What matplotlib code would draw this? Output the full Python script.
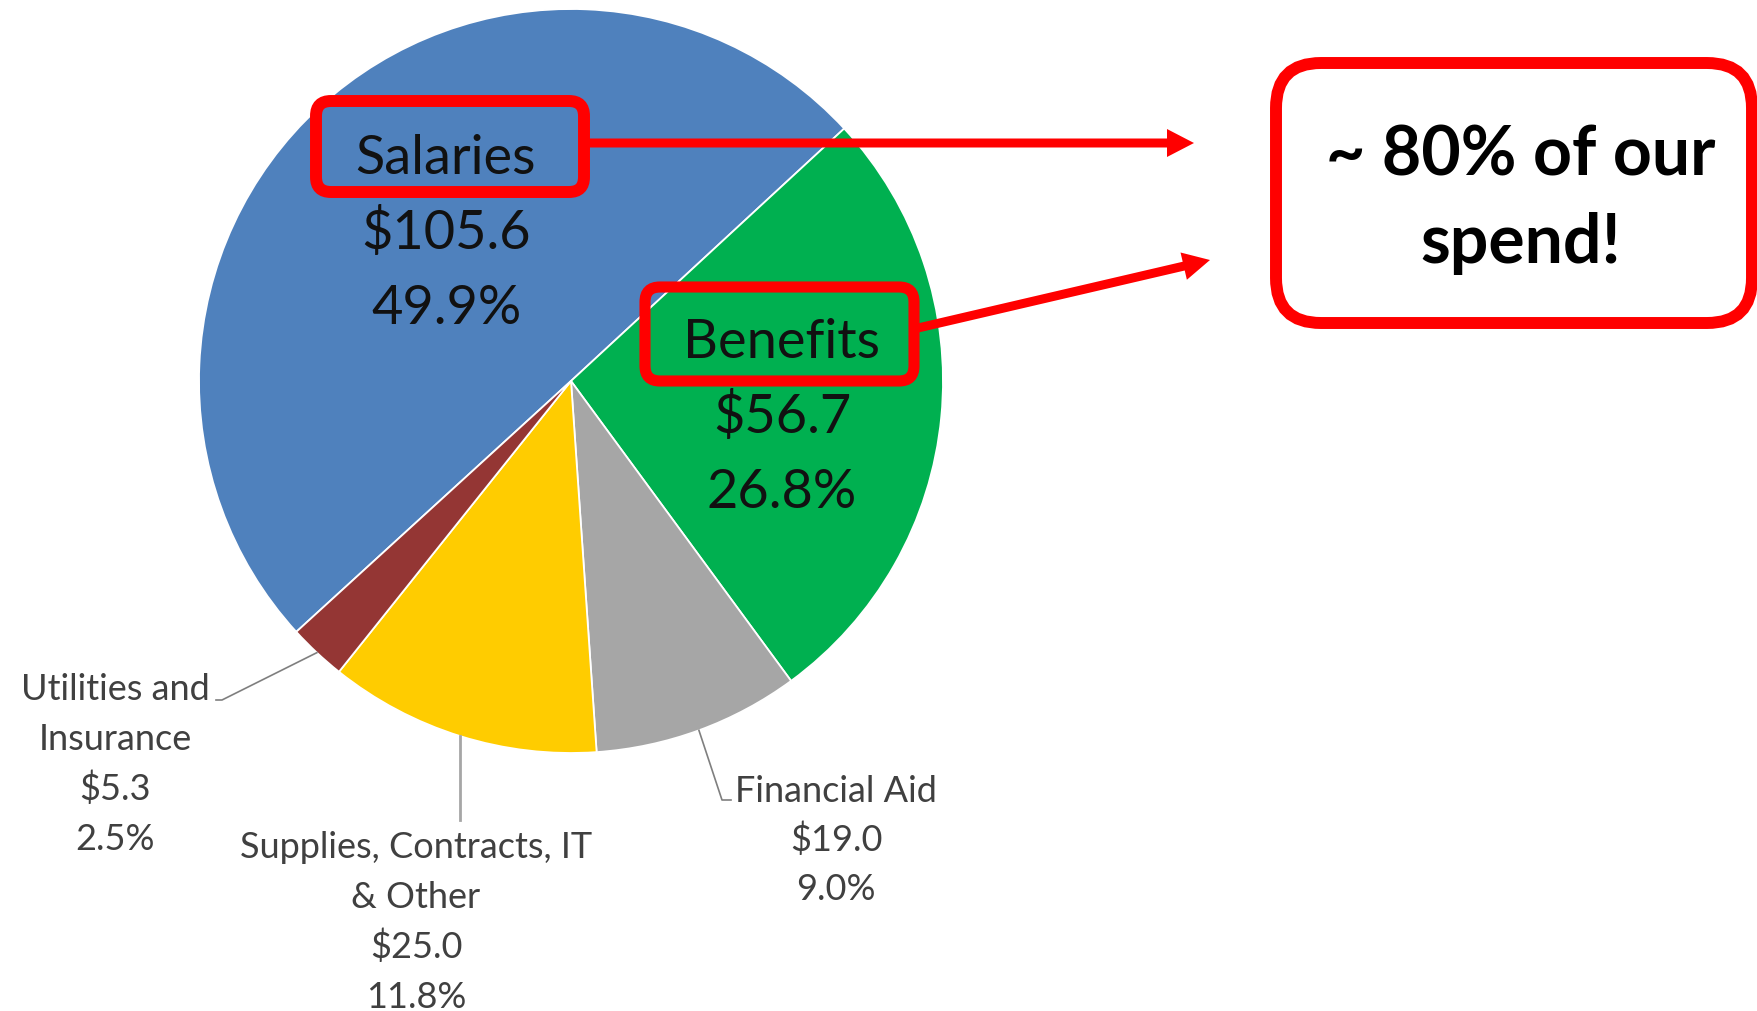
import matplotlib
matplotlib.use("Agg")
import matplotlib.pyplot as plt
from matplotlib.patches import FancyBboxPatch
import numpy as np

# canvas in pixels (y grows downwards, like the source image)
W, H = 1757, 1011

categories = ["Salaries", "Benefits", "Financial Aid",
              "Supplies, Contracts, IT\n& Other", "Utilities and\nInsurance"]
amounts = [105.6, 56.7, 19.0, 25.0, 5.3]   # $M
colors = ["#4F81BD", "#00B050", "#A6A6A6", "#FFCC00", "#943634"]
callout_text = ["~ 80% of our", "spend!"]

FONT = "Lato"
DARK = "#111111"
GREY_TXT = "#404040"
RED = "#FF0000"

fig = plt.figure(figsize=(W / 100, H / 100), dpi=100)
ax = fig.add_axes([0, 0, 1, 1])

# y axis inverted -> counterclockwise in data reads clockwise on screen
wedges, _ = ax.pie(amounts, colors=colors, startangle=137.6, counterclock=True,
                   center=(571, 381), radius=372,
                   wedgeprops=dict(edgecolor="white", linewidth=1.3))
ax.set_xlim(0, W)
ax.set_ylim(H, 0)
ax.set_aspect("equal")
ax.axis("off")

total = sum(amounts)
pcts = [a / total * 100 for a in amounts]


def lines_at(x, y0, step, lines, size, color, weight="normal"):
    for i, s in enumerate(lines):
        ax.text(x, y0 + i * step, s, ha="center", va="baseline", fontsize=size,
                color=color, family=FONT, fontweight=weight, zorder=6)


def rim_point(w, r=372):
    ang = np.deg2rad((w.theta1 + w.theta2) / 2)
    return 571 + r * np.cos(ang), 381 + r * np.sin(ang)


def label_lines(i):
    return categories[i].split("\n") + [f"${amounts[i]:.1f}", f"{pcts[i]:.1f}%"]


# inside labels
lines_at(446, 174, 75, label_lines(0), 39, DARK)
lines_at(782, 358, 75, label_lines(1), 39, DARK)

# outside labels
lines_at(836, 802, 49, label_lines(2), 26, GREY_TXT)
lines_at(416, 858, 50, label_lines(3), 26, GREY_TXT)
lines_at(115, 700, 50, label_lines(4), 26, GREY_TXT)

# leader lines
px, py = rim_point(wedges[2])
ax.plot([px, 722, 731], [py, 800, 800], color="#7F7F7F", lw=1.2, zorder=4)
px, py = rim_point(wedges[3])
ax.plot([px, px], [py, 820], color="#A6A6A6", lw=2, zorder=4)
px, py = rim_point(wedges[4])
ax.plot([px, 222, 216], [py, 700, 700], color="#7F7F7F", lw=1.2, zorder=4)

# red highlight boxes
for (x0, y0, x1, y1), rad, lw in [((316, 101, 584, 192), 15, 8.6),
                                  ((645, 287, 914, 381), 15, 8.0),
                                  ((1276, 63, 1752, 323), 45, 8.6)]:
    ax.add_patch(FancyBboxPatch((x0, y0), x1 - x0, y1 - y0,
                                boxstyle=f"round,pad=0,rounding_size={rad}",
                                fill=False, edgecolor=RED, lw=lw, zorder=5))

# arrows to the callout
ax.arrow(589, 143, 1194 - 589, 0, width=9, head_width=28, head_length=27,
         length_includes_head=True, color=RED, lw=0, zorder=5)
ax.arrow(918, 328, 1210 - 918, 260 - 328, width=9, head_width=28, head_length=27,
         length_includes_head=True, color=RED, lw=0, zorder=5)

lines_at(1521, 175, 88, callout_text, 49, "black", weight="bold")

fig.savefig("out.png", dpi=100)
